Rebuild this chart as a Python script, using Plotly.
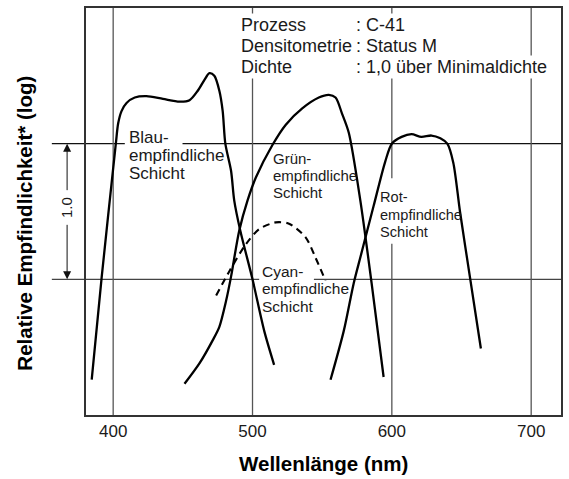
import plotly.graph_objects as go

# ---- data ----
blue_nm = [384.6, 391.7, 401.9, 403.6, 406.0, 409.6, 415.5, 423.9, 435.7, 447.6, 454.8,
           460.7, 465.5, 469.1, 472.6, 476.2, 478.6, 480.5, 484.6, 486.9, 491.2, 500.0, 508.4, 515.5]
blue_y = [0.26, 1.01, 2.00, 2.15, 2.24, 2.30, 2.34, 2.35, 2.33, 2.31, 2.32,
          2.39, 2.47, 2.52, 2.50, 2.39, 2.24, 2.00, 1.80, 1.58, 1.36, 1.00, 0.62, 0.37]

green_nm = [451.2, 461.9, 471.4, 476.2, 481.0, 484.6, 490.5, 496.4, 502.4, 514.3, 523.9,
            535.7, 547.6, 554.8, 559.6, 564.3, 569.1, 577.4, 585.5, 594.1]
green_y = [0.23, 0.38, 0.55, 0.65, 0.84, 1.02, 1.36, 1.58, 1.75, 1.99, 2.14,
           2.26, 2.34, 2.36, 2.34, 2.22, 2.08, 1.58, 0.97, 0.28]

red_nm = [556.0, 565.5, 572.6, 577.6, 586.9, 595.3, 600.0, 607.0, 614.1, 621.2, 628.4,
          634.8, 639.8, 644.1, 648.9, 656.0, 663.9]
red_y = [0.26, 0.62, 0.97, 1.17, 1.54, 1.87, 2.00, 2.05, 2.07, 2.05, 2.06,
         2.04, 2.00, 1.86, 1.50, 1.02, 0.49]

cyan_nm = [473.9, 483.4, 495.3, 504.8, 516.7, 526.2, 538.1, 545.2, 552.4]
cyan_y = [0.88, 1.06, 1.26, 1.37, 1.42, 1.41, 1.31, 1.16, 0.99]

x_ticks = [400, 500, 600, 700]
x_tick_labels = ["400", "500", "600", "700"]

info_keys = ["Prozess", "Densitometrie", "Dichte"]
info_vals = [": C-41", ": Status M", ": 1,0 über Minimaldichte"]

FONT = "Liberation Sans, Arial, Helvetica, sans-serif"
TXT = "#1a1a1a"

fig = go.Figure()
line_style = dict(color="#000000", width=2.3, shape="spline", smoothing=0.8)
fig.add_trace(go.Scatter(x=blue_nm, y=blue_y, mode="lines", line=line_style, name="Blau"))
fig.add_trace(go.Scatter(x=green_nm, y=green_y, mode="lines", line=line_style, name="Grün"))
fig.add_trace(go.Scatter(x=red_nm, y=red_y, mode="lines", line=line_style, name="Rot"))
fig.add_trace(go.Scatter(x=cyan_nm, y=cyan_y, mode="lines",
                         line=dict(color="#000000", width=2.1, dash="7px,5px",
                                   shape="spline", smoothing=0.8), name="Cyan"))

shapes = []
vcol = "#555555"
# vertical reference lines
for xv, segs in [(400, [(0, 3)]), (500, [(0, 3)]), (600, [(0, 1.262), (1.746, 3)]), (700, [(0, 3)])]:
    for y0, y1 in segs:
        shapes.append(dict(type="line", xref="x", yref="y", x0=xv, x1=xv, y0=y0, y1=y1,
                           line=dict(color=vcol, width=1.3), layer="below"))
# horizontal reference lines (extend left of the frame)
for yv, segs, col in [(2, [(-0.0719, 0.0817), (0.2032, 1)], "#111111"),
                      (1, [(-0.0719, 0.3646), (0.4798, 1)], "#444444")]:
    for x0, x1 in segs:
        shapes.append(dict(type="line", xref="paper", yref="y", x0=x0, x1=x1, y0=yv, y1=yv,
                           line=dict(color=col, width=1.3), layer="below"))

ann = []
# info block
info_y = [2.876, 2.722, 2.568]
for k, v, yy in zip(info_keys, info_vals, info_y):
    ann.append(dict(x=490.5, y=yy, xref="x", yref="y", text=k, showarrow=False,
                    xanchor="left", yanchor="middle", bgcolor="white", borderpad=1,
                    font=dict(family=FONT, size=18, color=TXT)))
    ann.append(dict(x=572.6, y=yy, xref="x", yref="y", text=v, showarrow=False,
                    xanchor="left", yanchor="middle", bgcolor="white", borderpad=1,
                    font=dict(family=FONT, size=18, color=TXT)))

# curve labels
labels = [
    (410.5, [2.047, 1.915, 1.783], ["Blau-", "empfindliche", "Schicht"], 17),
    (514.3, [1.889, 1.768, 1.643], ["Grün-", "empfindliche", "Schicht"], 15),
    (591.0, [1.607, 1.475, 1.350], ["Rot-", "empfindliche", "Schicht"], 14.6),
    (506.0, [1.057, 0.935, 0.800], ["Cyan-", "empfindliche", "Schicht"], 15.5),
]
for xx, ys, texts, fs in labels:
    for yy, t in zip(ys, texts):
        ann.append(dict(x=xx, y=yy, xref="x", yref="y", text=t, showarrow=False,
                        xanchor="left", yanchor="middle", borderpad=0,
                        font=dict(family=FONT, size=fs, color=TXT)))

# 1.0 double arrow
ax_x = -0.0398
ann.append(dict(x=ax_x, y=2, xref="paper", yref="y", text="", showarrow=True,
                ax=0, ay=48, arrowhead=2, arrowsize=1.6, arrowwidth=1, arrowcolor="#111111",
                standoff=0))
ann.append(dict(x=ax_x, y=1, xref="paper", yref="y", text="", showarrow=True,
                ax=0, ay=-56, arrowhead=2, arrowsize=1.6, arrowwidth=1, arrowcolor="#111111",
                standoff=0))
ann.append(dict(x=ax_x, y=1.526, xref="paper", yref="y", text="1.0", showarrow=False,
                textangle=-90, xanchor="center", yanchor="middle",
                font=dict(family=FONT, size=15, color=TXT)))

# axis titles
ann.append(dict(x=0.5, y=-0.1198, xref="paper", yref="paper", text="<b>Wellenlänge (nm)</b>",
                showarrow=False, xanchor="center", yanchor="middle",
                font=dict(family=FONT, size=20.5, color="#000000")))
ann.append(dict(x=-0.130, y=0.4707, xref="paper", yref="paper",
                text="<b>Relative Empfindlichkeit* (log)</b>", textangle=-90,
                showarrow=False, xanchor="center", yanchor="middle",
                font=dict(family=FONT, size=20.5, color="#000000")))

fig.update_layout(
    width=569, height=479,
    margin=dict(l=86, r=6, t=6, b=64),
    paper_bgcolor="white", plot_bgcolor="white",
    showlegend=False,
    shapes=shapes, annotations=ann,
    xaxis=dict(range=[380.5, 721.4], tickvals=x_ticks, ticktext=x_tick_labels,
               showgrid=False, zeroline=False, showline=True, mirror=True,
               linecolor="#333333", linewidth=2, ticks="",
               tickfont=dict(family=FONT, size=17, color=TXT)),
    yaxis=dict(range=[0, 3.0], showticklabels=False, showgrid=False, zeroline=False,
               showline=True, mirror=True, linecolor="#333333", linewidth=2, ticks=""),
)

fig.write_html("out.html", config={"displayModeBar": False},
               post_script="document.body.style.margin='0px';")
